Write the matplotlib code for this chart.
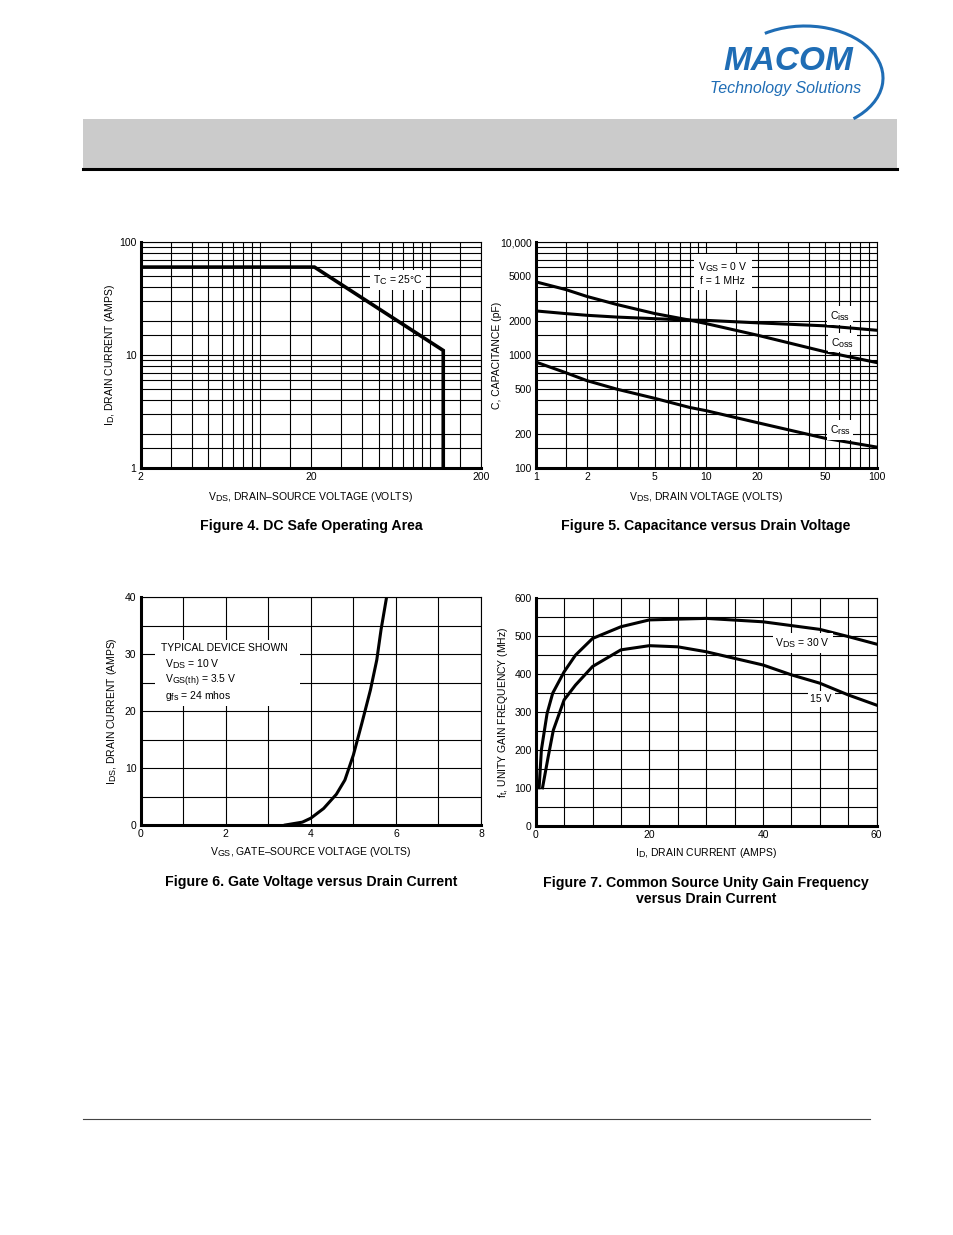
import matplotlib
matplotlib.use("Agg")
import matplotlib.pyplot as plt
import matplotlib._mathtext as mathtext_internals
from matplotlib.patches import Rectangle, Arc
from matplotlib.ticker import FixedLocator, NullFormatter

plt.rcParams["font.family"] = ["Liberation Sans", "DejaVu Sans"]
plt.rcParams["mathtext.fontset"] = "custom"
plt.rcParams["mathtext.rm"] = "Liberation Sans"
plt.rcParams["mathtext.it"] = "Liberation Sans:italic"
plt.rcParams["mathtext.bf"] = "Liberation Sans:bold"
# datasheet subscripts are almost full size
mathtext_internals.SHRINK_FACTOR = 0.85

W, H = 954, 1235

# Figure 4: DC safe operating area
soa_vds = [2, 21, 120, 120]
soa_id = [60, 60, 11, 1]
soa_xticks = [2, 20, 200]
soa_yticks = [1, 10, 100]
soa_xgrid = [3, 4, 5, 6, 7, 8, 9, 10, 15, 30, 40, 50, 60, 70, 80, 90, 100, 150]
soa_ygrid = [1.5, 2, 3, 4, 5, 6, 7, 8, 9, 15, 20, 30, 40, 50, 60, 70, 80, 90]

# Figure 5: capacitance vs drain voltage
cap_vds = [1, 1.5, 2, 3, 5, 8, 10, 20, 50, 100]
ciss = [2460, 2330, 2250, 2170, 2100, 2040, 2030, 1930, 1815, 1660]
coss = [4450, 3800, 3300, 2800, 2330, 2040, 1900, 1500, 1070, 860]
crss = [870, 700, 595, 500, 415, 345, 323, 253, 184, 154]
cap_xticks = [1, 2, 5, 10, 20, 50, 100]
cap_yticks = [100, 200, 500, 1000, 2000, 5000, 10000]
cap_ylabels = ["100", "200", "500", "1000", "2000", "5000", "10,000"]
cap_xgrid = [1.5, 3, 4, 6, 7, 8, 9, 15, 30, 40, 60, 70, 80, 90]
cap_ygrid = [150, 300, 400, 600, 700, 800, 900, 1500, 3000, 4000, 6000, 7000, 8000, 9000]

# Figure 6: gate voltage vs drain current
vgs = [3.4, 3.8, 4.0, 4.3, 4.6, 4.8, 5.0, 5.2, 5.4, 5.55, 5.65, 5.78]
ids = [0, 0.5, 1.2, 2.9, 5.4, 7.9, 12.3, 17.9, 23.7, 29, 34.3, 40]
gate_xticks = [0, 2, 4, 6, 8]
gate_yticks = [0, 10, 20, 30, 40]
gate_xgrid = [1, 3, 5, 7]
gate_ygrid = [5, 15, 25, 35]
gate_notes = [
    "TYPICAL DEVICE SHOWN",
    r"$\mathregular{V_{DS}}$ = 10 V",
    r"$\mathregular{V_{GS(th)}}$ = 3.5 V",
    r"$\mathregular{g_{fs}}$ = 24 mhos",
]

# Figure 7: unity gain frequency vs drain current
id_30 = [0.6, 1.0, 2, 3, 5, 7, 10, 15, 20, 30, 40, 50, 55, 60]
ft_30 = [100, 200, 296, 350, 406, 450, 494, 525, 543, 547, 538, 518, 499, 479]
id_15 = [1.2, 2.2, 3.1, 5, 7, 10, 15, 20, 25, 30, 40, 45, 50, 55, 60]
ft_15 = [100, 182, 252, 332, 371, 420, 464, 475, 472, 459, 424, 398, 376, 345, 318]
ft_xticks = [0, 20, 40, 60]
ft_yticks = [0, 100, 200, 300, 400, 500, 600]
ft_xgrid = [5, 10, 15, 25, 30, 35, 45, 50, 55]
ft_ygrid = [50, 150, 250, 350, 450, 550]

BLUE = "#1f6db5"
WHITE_BOX = dict(facecolor="white", edgecolor="none", pad=2)


def make_axes(fig, left, top, right, bottom):
    # pixel box -> figure fraction
    return fig.add_axes([left / W, 1 - bottom / H, (right - left) / W, (bottom - top) / H])


def style(ax, xgrid, ygrid):
    ax.xaxis.set_minor_locator(FixedLocator(xgrid))
    ax.yaxis.set_minor_locator(FixedLocator(ygrid))
    ax.xaxis.set_minor_formatter(NullFormatter())
    ax.yaxis.set_minor_formatter(NullFormatter())
    ax.grid(True, which="both", color="black", lw=0.8)
    ax.set_axisbelow(True)
    ax.tick_params(which="both", length=0, labelsize=7.5, pad=3)
    for side in ["left", "bottom"]:
        ax.spines[side].set_linewidth(2.2)
    for side in ["top", "right"]:
        ax.spines[side].set_linewidth(0.8)


fig = plt.figure(figsize=(W / 100, H / 100), dpi=100)

# page decoration
bg = fig.add_axes([0, 0, 1, 1], zorder=-1)
bg.set_xlim(0, W)
bg.set_ylim(H, 0)
bg.axis("off")
bg.add_patch(Rectangle((83, 119), 814, 49, facecolor="#cbcbcb", edgecolor="none"))
bg.plot([83, 897], [169, 169], color="black", lw=2.2)
bg.plot([83, 870], [1119, 1119], color="#444444", lw=0.8)
bg.add_patch(Arc((805, 78), 156, 104, theta1=228, theta2=40, color=BLUE, lw=2.2))
bg.text(788, 62, "MACOM", color=BLUE, fontsize=24, fontweight="bold",
        fontstyle="italic", ha="center", va="center")
bg.text(786, 88, "Technology Solutions", color=BLUE, fontsize=11.5,
        fontstyle="italic", ha="center", va="center")

# Figure 4
ax4 = make_axes(fig, 140.7, 242, 481, 468.3)
ax4.set_xscale("log")
ax4.set_yscale("log")
ax4.set_xlim(2, 200)
ax4.set_ylim(1, 100)
ax4.set_xticks(soa_xticks)
ax4.set_xticklabels([str(v) for v in soa_xticks])
ax4.set_yticks(soa_yticks)
ax4.set_yticklabels([str(v) for v in soa_yticks])
style(ax4, soa_xgrid, soa_ygrid)
ax4.plot(soa_vds, soa_id, color="black", lw=2.6, solid_joinstyle="miter")
ax4.text(65, 46, r"$\mathregular{T_C}$ = 25°C", fontsize=7.5, ha="center", va="center", bbox=WHITE_BOX)
ax4.set_xlabel(r"$\mathregular{V_{DS}}$, DRAIN–SOURCE VOLTAGE (VOLTS)", fontsize=7.5)
ax4.set_ylabel(r"$\mathregular{I_D}$, DRAIN CURRENT (AMPS)", fontsize=7.5)
ax4.xaxis.set_label_coords(0.5, -0.095)
ax4.yaxis.set_label_coords(-0.07, 0.5)

# Figure 5
ax5 = make_axes(fig, 535.7, 242, 876.7, 468.3)
ax5.set_xscale("log")
ax5.set_yscale("log")
ax5.set_xlim(1, 100)
ax5.set_ylim(100, 10000)
ax5.set_xticks(cap_xticks)
ax5.set_xticklabels([str(v) for v in cap_xticks])
ax5.set_yticks(cap_yticks)
ax5.set_yticklabels(cap_ylabels)
style(ax5, cap_xgrid, cap_ygrid)
ax5.plot(cap_vds, ciss, color="black", lw=2.2)
ax5.plot(cap_vds, coss, color="black", lw=2.2)
ax5.plot(cap_vds, crss, color="black", lw=2.2)
ax5.text(61, 2230, r"$\mathregular{C_{iss}}$", fontsize=7.5, ha="center", va="center", bbox=WHITE_BOX)
ax5.text(63, 1290, r"$\mathregular{C_{oss}}$", fontsize=7.5, ha="center", va="center", bbox=WHITE_BOX)
ax5.text(61, 218, r"$\mathregular{C_{rss}}$", fontsize=7.5, ha="center", va="center", bbox=WHITE_BOX)
ax5.text(12.5, 5300, "$\\mathregular{V_{GS}}$ = 0 V\nf = 1 MHz", fontsize=7.5,
         ha="center", va="center", linespacing=1.3, bbox=dict(facecolor="white", edgecolor="none", pad=3))
ax5.set_xlabel(r"$\mathregular{V_{DS}}$, DRAIN VOLTAGE (VOLTS)", fontsize=7.5)
ax5.set_ylabel("C, CAPACITANCE (pF)", fontsize=7.5)
ax5.xaxis.set_label_coords(0.5, -0.095)
ax5.yaxis.set_label_coords(-0.1, 0.5)

# Figure 6
ax6 = make_axes(fig, 140.7, 597.3, 481, 825)
ax6.set_xlim(0, 8)
ax6.set_ylim(0, 40)
ax6.set_xticks(gate_xticks)
ax6.set_yticks(gate_yticks)
style(ax6, gate_xgrid, gate_ygrid)
ax6.plot(vgs, ids, color="black", lw=2.2)
ax6.add_patch(Rectangle((0.34, 20.9), 3.4, 11.6, facecolor="white", edgecolor="none", zorder=1.5))
for i, note in enumerate(gate_notes):
    ax6.text(0.48 if i == 0 else 0.57, 30.6 - 2.81 * i, note, fontsize=7.5,
             ha="left", va="baseline", zorder=3)
ax6.set_xlabel(r"$\mathregular{V_{GS}}$, GATE–SOURCE VOLTAGE (VOLTS)", fontsize=7.5)
ax6.set_ylabel(r"$\mathregular{I_{DS}}$, DRAIN CURRENT (AMPS)", fontsize=7.5)
ax6.xaxis.set_label_coords(0.5, -0.09)
ax6.yaxis.set_label_coords(-0.065, 0.5)

# Figure 7
ax7 = make_axes(fig, 535.7, 598.3, 876.7, 825.7)
ax7.set_xlim(0, 60)
ax7.set_ylim(0, 600)
ax7.set_xticks(ft_xticks)
ax7.set_yticks(ft_yticks)
style(ax7, ft_xgrid, ft_ygrid)
ax7.plot(id_30, ft_30, color="black", lw=2.2)
ax7.plot(id_15, ft_15, color="black", lw=2.2)
ax7.text(47, 482, r"$\mathregular{V_{DS}}$ = 30 V", fontsize=7.5, ha="center", va="center", bbox=WHITE_BOX)
ax7.text(50.2, 334, "15 V", fontsize=7.5, ha="center", va="center", bbox=WHITE_BOX)
ax7.set_xlabel(r"$\mathregular{I_D}$, DRAIN CURRENT (AMPS)", fontsize=7.5)
ax7.set_ylabel(r"$\mathregular{f_t}$, UNITY GAIN FREQUENCY (MHz)", fontsize=7.5)
ax7.xaxis.set_label_coords(0.5, -0.09)
ax7.yaxis.set_label_coords(-0.075, 0.5)

# captions
captions = [
    (311, 526, "Figure 4. DC Safe Operating Area"),
    (706, 526, "Figure 5. Capacitance versus Drain Voltage"),
    (311, 882, "Figure 6. Gate Voltage versus Drain Current"),
    (706, 891, "Figure 7. Common Source Unity Gain Frequency\nversus Drain Current"),
]
for x, y, s in captions:
    fig.text(x / W, 1 - y / H, s, fontsize=10.2, fontweight="bold",
             ha="center", va="center", linespacing=1.2)

fig.savefig("out.png", dpi=100)
